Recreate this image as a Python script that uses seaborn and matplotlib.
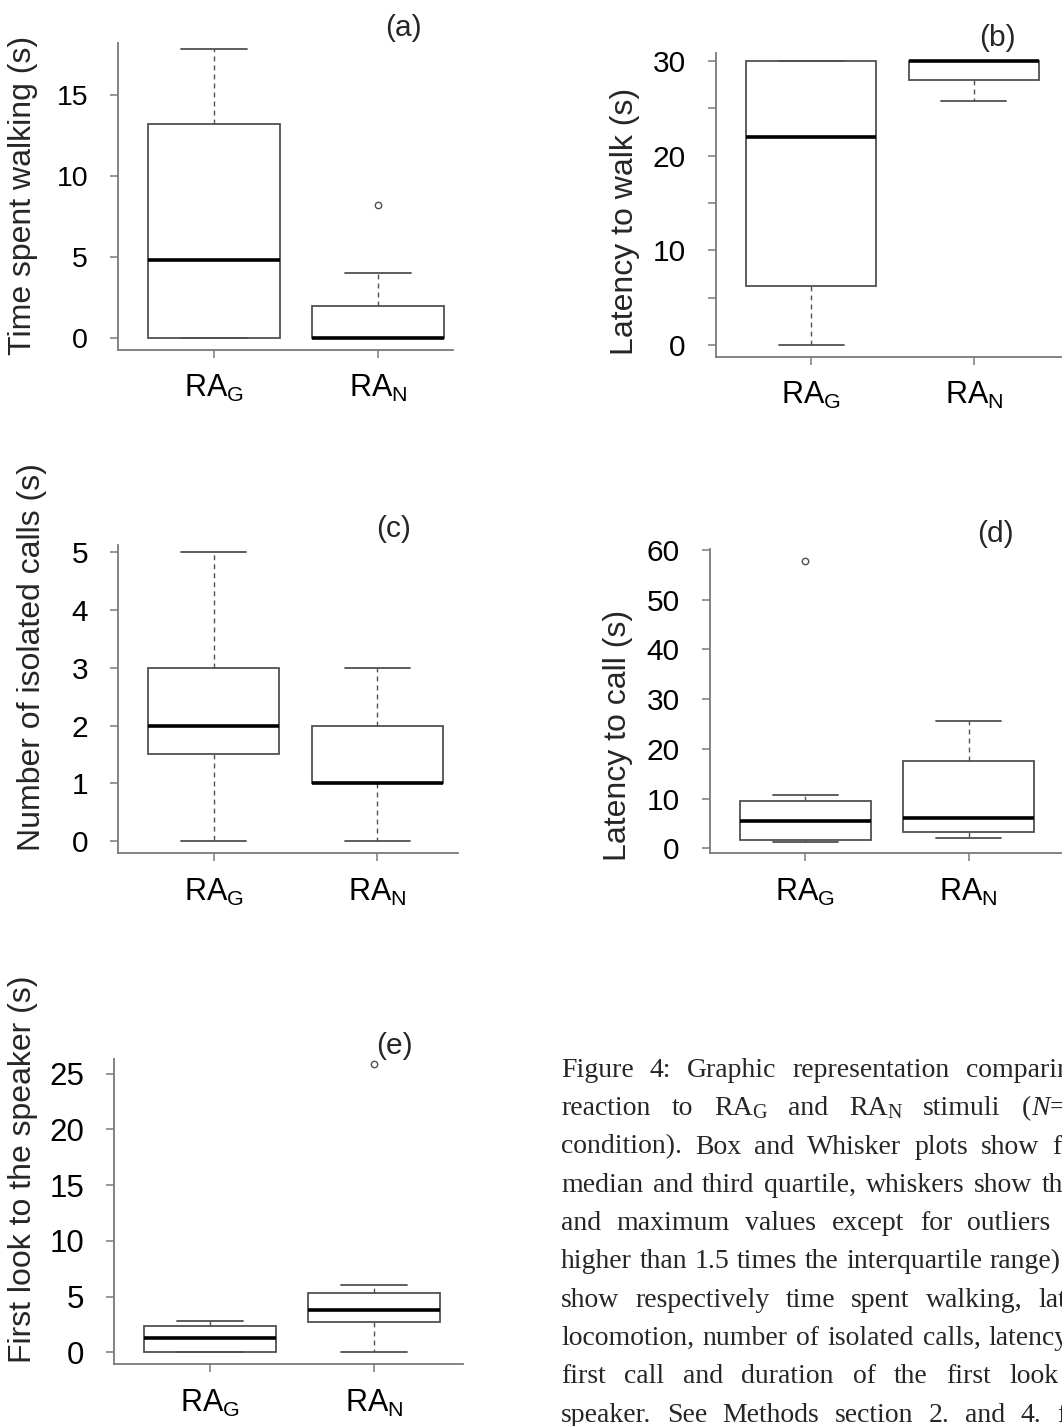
import matplotlib
matplotlib.use("Agg")
import matplotlib.pyplot as plt
import seaborn as sns

# ---------------- data ----------------
groups = ["RA_G", "RA_N"]
group_labels = [r"$\mathrm{RA}_{\mathrm{G}}$", r"$\mathrm{RA}_{\mathrm{N}}$"]
stat_keys = ["whislo", "q1", "med", "q3", "whishi"]

# (a) Time spent walking (s)
walk_time_G = [0.0, 0.0, 4.8, 13.2, 17.8]
walk_time_N = [0.0, 0.0, 0.0, 2.0, 4.0]
walk_time_out_G = []
walk_time_out_N = [8.2]

# (b) Latency to walk (s)
walk_lat_G = [0.0, 6.2, 22.0, 30.0, 30.0]
walk_lat_N = [25.8, 28.0, 30.0, 30.0, 30.0]
walk_lat_out_G = []
walk_lat_out_N = []

# (c) Number of isolated calls
calls_G = [0.0, 1.5, 2.0, 3.0, 5.0]
calls_N = [0.0, 1.0, 1.0, 2.0, 3.0]
calls_out_G = []
calls_out_N = []

# (d) Latency to call (s)
call_lat_G = [1.3, 1.7, 5.6, 9.6, 10.8]
call_lat_N = [2.0, 3.2, 6.1, 17.5, 25.5]
call_lat_out_G = [57.7]
call_lat_out_N = []

# (e) First look to the speaker (s)
look_G = [0.0, 0.0, 1.3, 2.4, 2.85]
look_N = [0.0, 2.7, 3.75, 5.3, 6.0]
look_out_G = []
look_out_N = [25.9]

ylabels = ["Time spent walking (s)", "Latency to walk (s)",
           "Number of isolated calls (s)", "Latency to call (s)",
           "First look to the speaker (s)"]
titles = ["(a)", "(b)", "(c)", "(d)", "(e)"]
yticks_a = [0, 5, 10, 15]
yticks_b = [0, 5, 10, 15, 20, 25, 30]
yticklabels_b = ["0", "", "10", "", "20", "", "30"]
yticks_c = [0, 1, 2, 3, 4, 5]
yticks_d = [0, 10, 20, 30, 40, 50, 60]
yticks_e = [0, 5, 10, 15, 20, 25]

caption_lines = [
    ["Figure", "4:", "Graphic", "representation", "comparing"],
    ["reaction", "to", "RA_G", "and", "RA_N", "stimuli", "(*N*="],
    ["condition).", "Box", "and", "Whisker", "plots", "show", "first"],
    ["median", "and", "third", "quartile,", "whiskers", "show", "the"],
    ["and", "maximum", "values", "except", "for", "outliers", "(values"],
    ["higher", "than", "1.5", "times", "the", "interquartile", "range)."],
    ["show", "respectively", "time", "spent", "walking,", "latency"],
    ["locomotion,", "number", "of", "isolated", "calls,", "latency"],
    ["first", "call", "and", "duration", "of", "the", "first", "look", "to"],
    ["speaker.", "See", "Methods", "section", "2.", "and", "4.", "for"],
]

# ---------------- style ----------------
sns.set_theme(style="ticks")
plt.rcParams["font.family"] = ["Liberation Sans", "DejaVu Sans"]
plt.rcParams["mathtext.fontset"] = "custom"
plt.rcParams["mathtext.rm"] = "Liberation Sans"
plt.rcParams["mathtext.it"] = "Liberation Sans:italic"

W, H = 1062, 1426
fig = plt.figure(figsize=(W / 100, H / 100), dpi=100)
fig.patch.set_facecolor("white")

YLAB_FS = 23
TITLE_FS = 21.5
XTICK_FS = 22
GRAY = "#7a7a7a"
EDGE = "#505050"


def px_rect(L, T, R, B):
    return [L / W, 1 - B / H, (R - L) / W, (B - T) / H]


panels = [
    dict(rect=(118.3, 43.3, 453.3, 350.0), xlim=(-0.58, 1.456), ylim=(-0.72, 18.16),
         stats=(walk_time_G, walk_time_N), outs=(walk_time_out_G, walk_time_out_N),
         yt=yticks_a, ytl=None, yfs=20.5, ylab_xy=(23.5, 195), title_xy=(403, 28)),
    dict(rect=(716.0, 53.3, 1062.0, 356.7), xlim=(-0.585, 1.543), ylim=(-1.2, 30.78),
         stats=(walk_lat_G, walk_lat_N), outs=(walk_lat_out_G, walk_lat_out_N),
         yt=yticks_b, ytl=yticklabels_b, yfs=21.5, ylab_xy=(625, 221), title_xy=(997, 38)),
    dict(rect=(118.3, 545.0, 458.3, 853.3), xlim=(-0.583, 1.495), ylim=(-0.213, 5.127),
         stats=(calls_G, calls_N), outs=(calls_out_G, calls_out_N),
         yt=yticks_c, ytl=None, yfs=21.5, ylab_xy=(32, 657), title_xy=(394, 529)),
    dict(rect=(710.0, 549.3, 1062.0, 853.3), xlim=(-0.583, 1.571), ylim=(-0.99, 60.1),
         stats=(call_lat_G, call_lat_N), outs=(call_lat_out_G, call_lat_out_N),
         yt=yticks_d, ytl=None, yfs=21.5, ylab_xy=(618, 735), title_xy=(995, 534)),
    dict(rect=(114.3, 1059.3, 463.3, 1364.3), xlim=(-0.584, 1.545), ylim=(-1.08, 26.3),
         stats=(look_G, look_N), outs=(look_out_G, look_out_N),
         yt=yticks_e, ytl=None, yfs=22.5, ylab_xy=(23, 1169), title_xy=(394, 1046)),
]

for i, p in enumerate(panels):
    ax = fig.add_axes(px_rect(*p["rect"]))
    ax.set_facecolor("white")
    bstats = []
    for g, s, o in zip(groups, p["stats"], p["outs"]):
        d = dict(zip(stat_keys, s))
        d["fliers"] = o
        d["label"] = g
        bstats.append(d)
    ax.bxp(bstats, positions=[0, 1], widths=0.8, capwidths=0.4,
           patch_artist=True, showfliers=True,
           boxprops=dict(facecolor="white", edgecolor=EDGE, linewidth=1.3),
           medianprops=dict(color="black", linewidth=2.6, solid_capstyle="butt"),
           whiskerprops=dict(color=EDGE, linewidth=1.0, linestyle=(0, (3.5, 3))),
           capprops=dict(color=EDGE, linewidth=1.3),
           flierprops=dict(marker="o", markerfacecolor="none", markeredgecolor=EDGE,
                           markersize=4.6, markeredgewidth=1.0))
    ax.set_xlim(*p["xlim"])
    ax.set_ylim(*p["ylim"])
    ax.set_xticks([0, 1])
    ax.set_xticklabels(group_labels)
    ax.set_yticks(p["yt"])
    if p["ytl"] is not None:
        ax.set_yticklabels(p["ytl"])
    sns.despine(ax=ax)
    for side in ("left", "bottom"):
        ax.spines[side].set_color(GRAY)
        ax.spines[side].set_linewidth(1.3)
    ax.tick_params(axis="both", direction="out", length=5.8, width=1.1,
                   color=GRAY, labelcolor="black")
    ax.tick_params(axis="y", pad=16, labelsize=p["yfs"])
    ax.tick_params(axis="x", pad=11, labelsize=XTICK_FS)
    ax.grid(False)
    lx, ly = p["ylab_xy"]
    fig.text(lx / W, 1 - ly / H, ylabels[i], rotation=90, rotation_mode="anchor",
             ha="center", va="center", fontsize=YLAB_FS)
    L, T, R, B = p["rect"]
    tx, ty = p["title_xy"]
    ax.text((tx - L) / (R - L), (B - ty) / (B - T), titles[i], transform=ax.transAxes,
            ha="center", va="center", fontsize=TITLE_FS, clip_on=False)

# ---------------- caption (justified-looking, cut at the right edge) ----------------
serif = ["Liberation Serif", "DejaVu Serif"]
CFS = 20
cap_x0 = 561
cap_base0 = 1077
cap_step = 38.3
cap_spaces = [16, 21, 13, 9.5, 15.5, 7.5, 16, 8.5, 18.5, 15.5]

fig.canvas.draw()
renderer = fig.canvas.get_renderer()


def put(txt, x, ybase, size, style="normal"):
    t = fig.text(x / W, 1 - ybase / H, txt, fontsize=size, family=serif,
                 fontstyle=style, ha="left", va="baseline")
    bb = t.get_window_extent(renderer=renderer)
    return bb.x1


def parse_word(w):
    segs = []
    if "_" in w:
        a, b = w.split("_")
        segs.append((a, "n"))
        segs.append((b, "sub"))
    elif "*" in w:
        parts = w.split("*")
        for k, part in enumerate(parts):
            if part:
                segs.append((part, "i" if k % 2 == 1 else "n"))
    else:
        segs.append((w, "n"))
    return segs


for li, words in enumerate(caption_lines):
    yb = cap_base0 + li * cap_step
    x = cap_x0
    for w in words:
        for txt, kind in parse_word(w):
            if kind == "sub":
                x = put(txt, x, yb + 2.5, CFS * 0.72)
            elif kind == "i":
                x = put(txt, x, yb, CFS, "italic")
            else:
                x = put(txt, x, yb, CFS)
        x += cap_spaces[li]

fig.savefig("out.png", dpi=100, facecolor="white")
